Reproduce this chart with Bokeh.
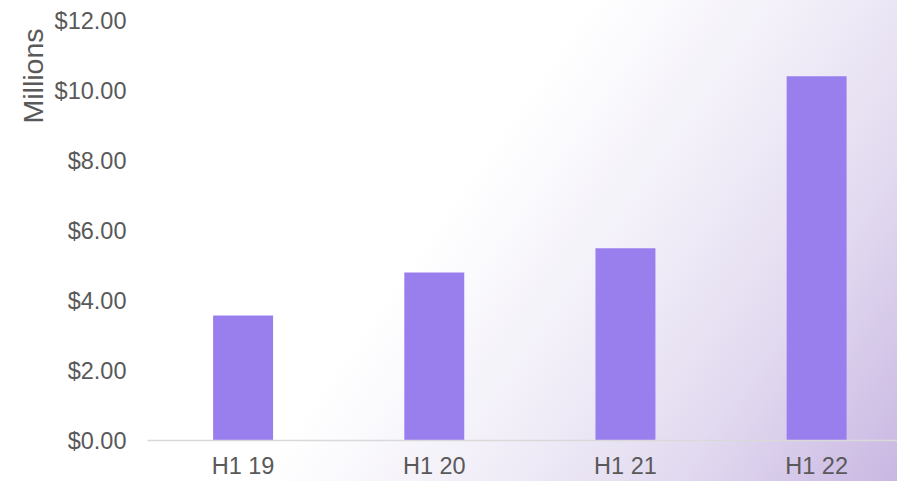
import math
from bokeh.plotting import figure
from bokeh.models import ColumnDataSource, Range1d, FixedTicker, Title, NumeralTickFormatter
from bokeh.embed import file_html
from bokeh.resources import INLINE

categories = ["H1 19", "H1 20", "H1 21", "H1 22"]
values = [3.57, 4.80, 5.49, 10.41]
y_ticks = [0, 2, 4, 6, 8, 10, 12]

FONT = "Liberation Sans"
GREY = "#595959"

xs = list(range(len(categories)))
src = ColumnDataSource(dict(x=xs, top=values, cat=categories))

p = figure(width=897, height=481, output_backend="svg", toolbar_location=None,
           x_range=Range1d(-0.5, 3.423), y_range=Range1d(0, 12),
           min_border_left=147, min_border_right=0, min_border_top=20, min_border_bottom=41)

p.styles = {"background-image": "linear-gradient(125deg, #ffffff 0%, #ffffff 48%, #f1eef8 66%, #e2daf0 82%, #c9b7e2 100%)"}
p.background_fill_alpha = 0
p.border_fill_alpha = 0
p.outline_line_color = None

p.vbar(x="x", top="top", width=0.3136, source=src, fill_color="#997eee", line_color=None)

p.xgrid.visible = False
p.ygrid.visible = False

xa = p.xaxis[0]
xa.ticker = FixedTicker(ticks=xs)
xa.major_label_overrides = {i: c for i, c in enumerate(categories)}
xa.major_tick_line_color = None
xa.minor_tick_line_color = None
xa.axis_line_color = "#d9d9d9"
xa.axis_line_width = 1.5
xa.major_label_text_font = FONT
xa.major_label_text_font_size = "23.5px"
xa.major_label_text_color = GREY
xa.major_label_standoff = 6

ya = p.yaxis[0]
ya.ticker = FixedTicker(ticks=y_ticks)
ya.formatter = NumeralTickFormatter(format="$0.00")
ya.major_tick_line_color = None
ya.minor_tick_line_color = None
ya.axis_line_color = None
ya.major_label_text_font = FONT
ya.major_label_text_font_size = "23.5px"
ya.major_label_text_color = GREY
ya.major_label_standoff = 15

t = Title(text="Millions", align="right", text_font=FONT, text_font_size="28.5px",
          text_color=GREY, text_font_style="normal", offset=8, standoff=6)
p.add_layout(t, "left")

open("out.html", "w").write(file_html(p, INLINE))
